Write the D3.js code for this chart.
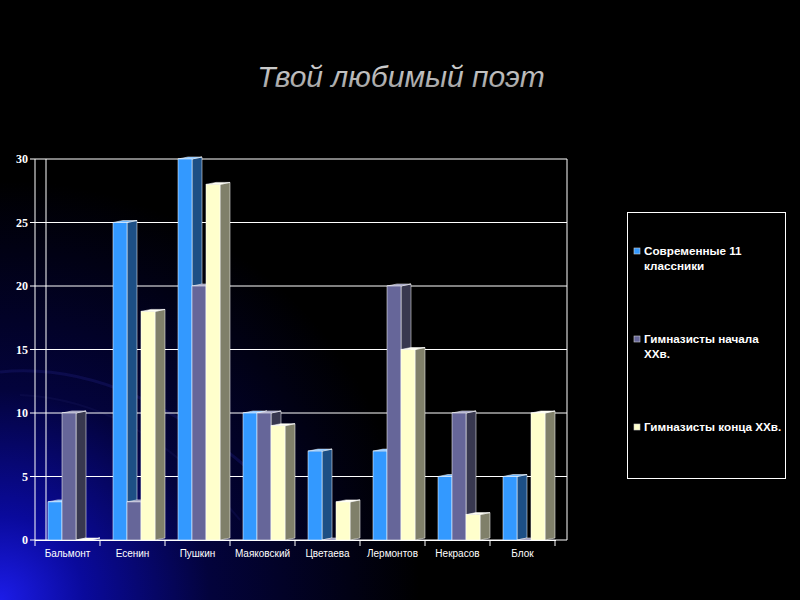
<!DOCTYPE html>
<html>
<head>
<meta charset="utf-8">
<script src="https://cdn.jsdelivr.net/npm/d3@7"></script>
<style>
  html, body { margin: 0; padding: 0; background: #000; }
  #chart svg { display: block; }
</style>
</head>
<body>
<div id="chart"></div>
<script>
const categories = ["Бальмонт", "Есенин", "Пушкин", "Маяковский", "Цветаева", "Лермонтов", "Некрасов", "Блок"];
const seriesNames = ["Современные 11 классники", "Гимназисты начала ХХв.", "Гимназисты конца ХХв."];
const modern = [3, 25, 30, 10, 7, 7, 5, 5];
const earlyXX = [10, 3, 20, 10, 0, 20, 10, 0];
const lateXX = [0, 18, 28, 9, 3, 15, 2, 10];
const yTicks = [0, 5, 10, 15, 20, 25, 30];
const legendLines = [["Современные 11", "классники"], ["Гимназисты начала", "ХХв."], ["Гимназисты конца ХХв."]];

const width = 800;
const height = 600;
const depthX = 10;
const depthY = -2;

const colors = [
  { front: "#3399ff", side: "#1d4f85", top: "#70b8ff" },
  { front: "#666699", side: "#38384f", top: "#8c8cb4" },
  { front: "#ffffcc", side: "#80806a", top: "#fffff2" }
];

const svg = d3.select("#chart")
  .append("svg")
  .attr("width", width)
  .attr("height", height);

const defs = svg.append("defs");
const bg = defs.append("radialGradient")
  .attr("id", "bgGlow")
  .attr("gradientUnits", "userSpaceOnUse")
  .attr("cx", 0).attr("cy", 600).attr("r", 420);
bg.append("stop").attr("offset", "0").attr("stop-color", "#1c1ce8");
bg.append("stop").attr("offset", "0.2").attr("stop-color", "#0a0a9c");
bg.append("stop").attr("offset", "0.5").attr("stop-color", "#03033c");
bg.append("stop").attr("offset", "1").attr("stop-color", "#000000");

const titleGrad = defs.append("linearGradient")
  .attr("id", "titleGrad")
  .attr("x1", 0).attr("y1", 0).attr("x2", 0).attr("y2", 1);
titleGrad.append("stop").attr("offset", "0").attr("stop-color", "#d8d8d8");
titleGrad.append("stop").attr("offset", "1").attr("stop-color", "#9a9a9a");

svg.append("rect").attr("width", width).attr("height", height).attr("fill", "#000");
svg.append("rect").attr("width", width).attr("height", height).attr("fill", "url(#bgGlow)");

// faint decorative swirls in the corner
svg.append("path")
  .attr("d", "M0,372 Q120,360 250,470")
  .attr("fill", "none").attr("stroke", "#13135e").attr("stroke-width", 3).attr("opacity", 0.6);
svg.append("path")
  .attr("d", "M20,395 Q140,400 240,520")
  .attr("fill", "none").attr("stroke", "#101050").attr("stroke-width", 2).attr("opacity", 0.5);

// title
svg.append("text")
  .attr("x", 401)
  .attr("y", 87)
  .attr("text-anchor", "middle")
  .style("font-family", "'Liberation Sans', Arial, sans-serif")
  .style("font-style", "italic")
  .style("font-size", "30px")
  .attr("fill", "url(#titleGrad)")
  .text("Твой любимый поэт");

const x = d3.scaleBand()
  .domain(categories)
  .range([35, 555]);

const xs = d3.scaleBand()
  .domain(seriesNames)
  .range([13, 55]);

const y = d3.scaleLinear()
  .domain([0, 30])
  .range([540, 159]);

const plot = svg.append("g");

// back wall and grid
plot.selectAll(".grid")
  .data(yTicks)
  .enter()
  .append("line")
  .attr("class", "grid")
  .attr("x1", 35).attr("x2", 567)
  .attr("y1", d => y(d)).attr("y2", d => y(d))
  .attr("stroke", "#fff").attr("stroke-width", 1);

[35, 46, 567].forEach(xx => {
  plot.append("line")
    .attr("x1", xx).attr("x2", xx)
    .attr("y1", y(30)).attr("y2", y(0))
    .attr("stroke", "#fff").attr("stroke-width", 1);
});

// y axis ticks and labels
plot.selectAll(".ytick")
  .data(yTicks)
  .enter()
  .append("line")
  .attr("x1", 30).attr("x2", 35)
  .attr("y1", d => y(d)).attr("y2", d => y(d))
  .attr("stroke", "#fff");

plot.selectAll(".ylabel")
  .data(yTicks)
  .enter()
  .append("text")
  .attr("x", 28)
  .attr("y", d => y(d))
  .attr("dy", "0.35em")
  .attr("text-anchor", "end")
  .attr("fill", "#fff")
  .style("font-family", "'Liberation Serif', 'Times New Roman', serif")
  .style("font-weight", "bold")
  .style("font-size", "12px")
  .text(d => d);

// category axis
plot.append("line")
  .attr("x1", 35).attr("x2", 556)
  .attr("y1", y(0) + 0.5).attr("y2", y(0) + 0.5)
  .attr("stroke", "#fff");

plot.selectAll(".xtick")
  .data(categories.concat(["end"]))
  .enter()
  .append("line")
  .attr("x1", (d, i) => 35 + i * x.step())
  .attr("x2", (d, i) => 35 + i * x.step())
  .attr("y1", y(0)).attr("y2", y(0) + 6)
  .attr("stroke", "#fff");

plot.selectAll(".xlabel")
  .data(categories)
  .enter()
  .append("text")
  .attr("x", d => x(d) + x.bandwidth() / 2)
  .attr("y", 557)
  .attr("text-anchor", "middle")
  .attr("fill", "#fff")
  .style("font-family", "'Liberation Sans', Arial, sans-serif")
  .style("font-size", "10px")
  .text(d => d);

// bars
const values = [modern, earlyXX, lateXX];
const barW = xs.bandwidth();

categories.forEach((cat, ci) => {
  seriesNames.forEach((s, si) => {
    const v = values[si][ci];
    const x0 = x(cat) + xs(s);
    const y0 = y(0);
    const y1 = y(v);
    const c = colors[si];
    const g = plot.append("g").attr("class", "bar");

    g.append("path")
      .attr("d", `M${x0 + barW},${y0} L${x0 + barW + depthX},${y0 + depthY} L${x0 + barW + depthX},${y1 + depthY} L${x0 + barW},${y1} Z`)
      .attr("fill", c.side)
      .attr("stroke", "rgba(255,255,255,0.75)").attr("stroke-width", 0.7);

    g.append("path")
      .attr("d", `M${x0},${y1} L${x0 + depthX},${y1 + depthY} L${x0 + barW + depthX},${y1 + depthY} L${x0 + barW},${y1} Z`)
      .attr("fill", c.top)
      .attr("stroke", "rgba(255,255,255,0.75)").attr("stroke-width", 0.7);

    g.append("rect")
      .attr("x", x0)
      .attr("y", y1)
      .attr("width", barW)
      .attr("height", y0 - y1)
      .attr("fill", c.front)
      .attr("stroke", "rgba(255,255,255,0.75)").attr("stroke-width", 0.7);
  });
});

// legend
const legend = svg.append("g");
legend.append("rect")
  .attr("x", 627.5).attr("y", 212.5)
  .attr("width", 158).attr("height", 266)
  .attr("fill", "none")
  .attr("stroke", "#fff");

const legendY = [251, 339, 427];
legendLines.forEach((lines, i) => {
  legend.append("rect")
    .attr("x", 634).attr("y", legendY[i] - 3)
    .attr("width", 6).attr("height", 6)
    .attr("fill", colors[i].front)
    .attr("stroke", "#ccc").attr("stroke-width", 0.6);
  const t = legend.append("text")
    .attr("x", 644)
    .attr("y", legendY[i])
    .attr("fill", "#fff")
    .style("font-family", "'Liberation Sans', Arial, sans-serif")
    .style("font-weight", "bold")
    .style("font-size", "11.7px");
  lines.forEach((line, li) => {
    t.append("tspan")
      .attr("x", 644)
      .attr("dy", li === 0 ? "0.35em" : "15")
      .text(line);
  });
});
</script>
</body>
</html>
